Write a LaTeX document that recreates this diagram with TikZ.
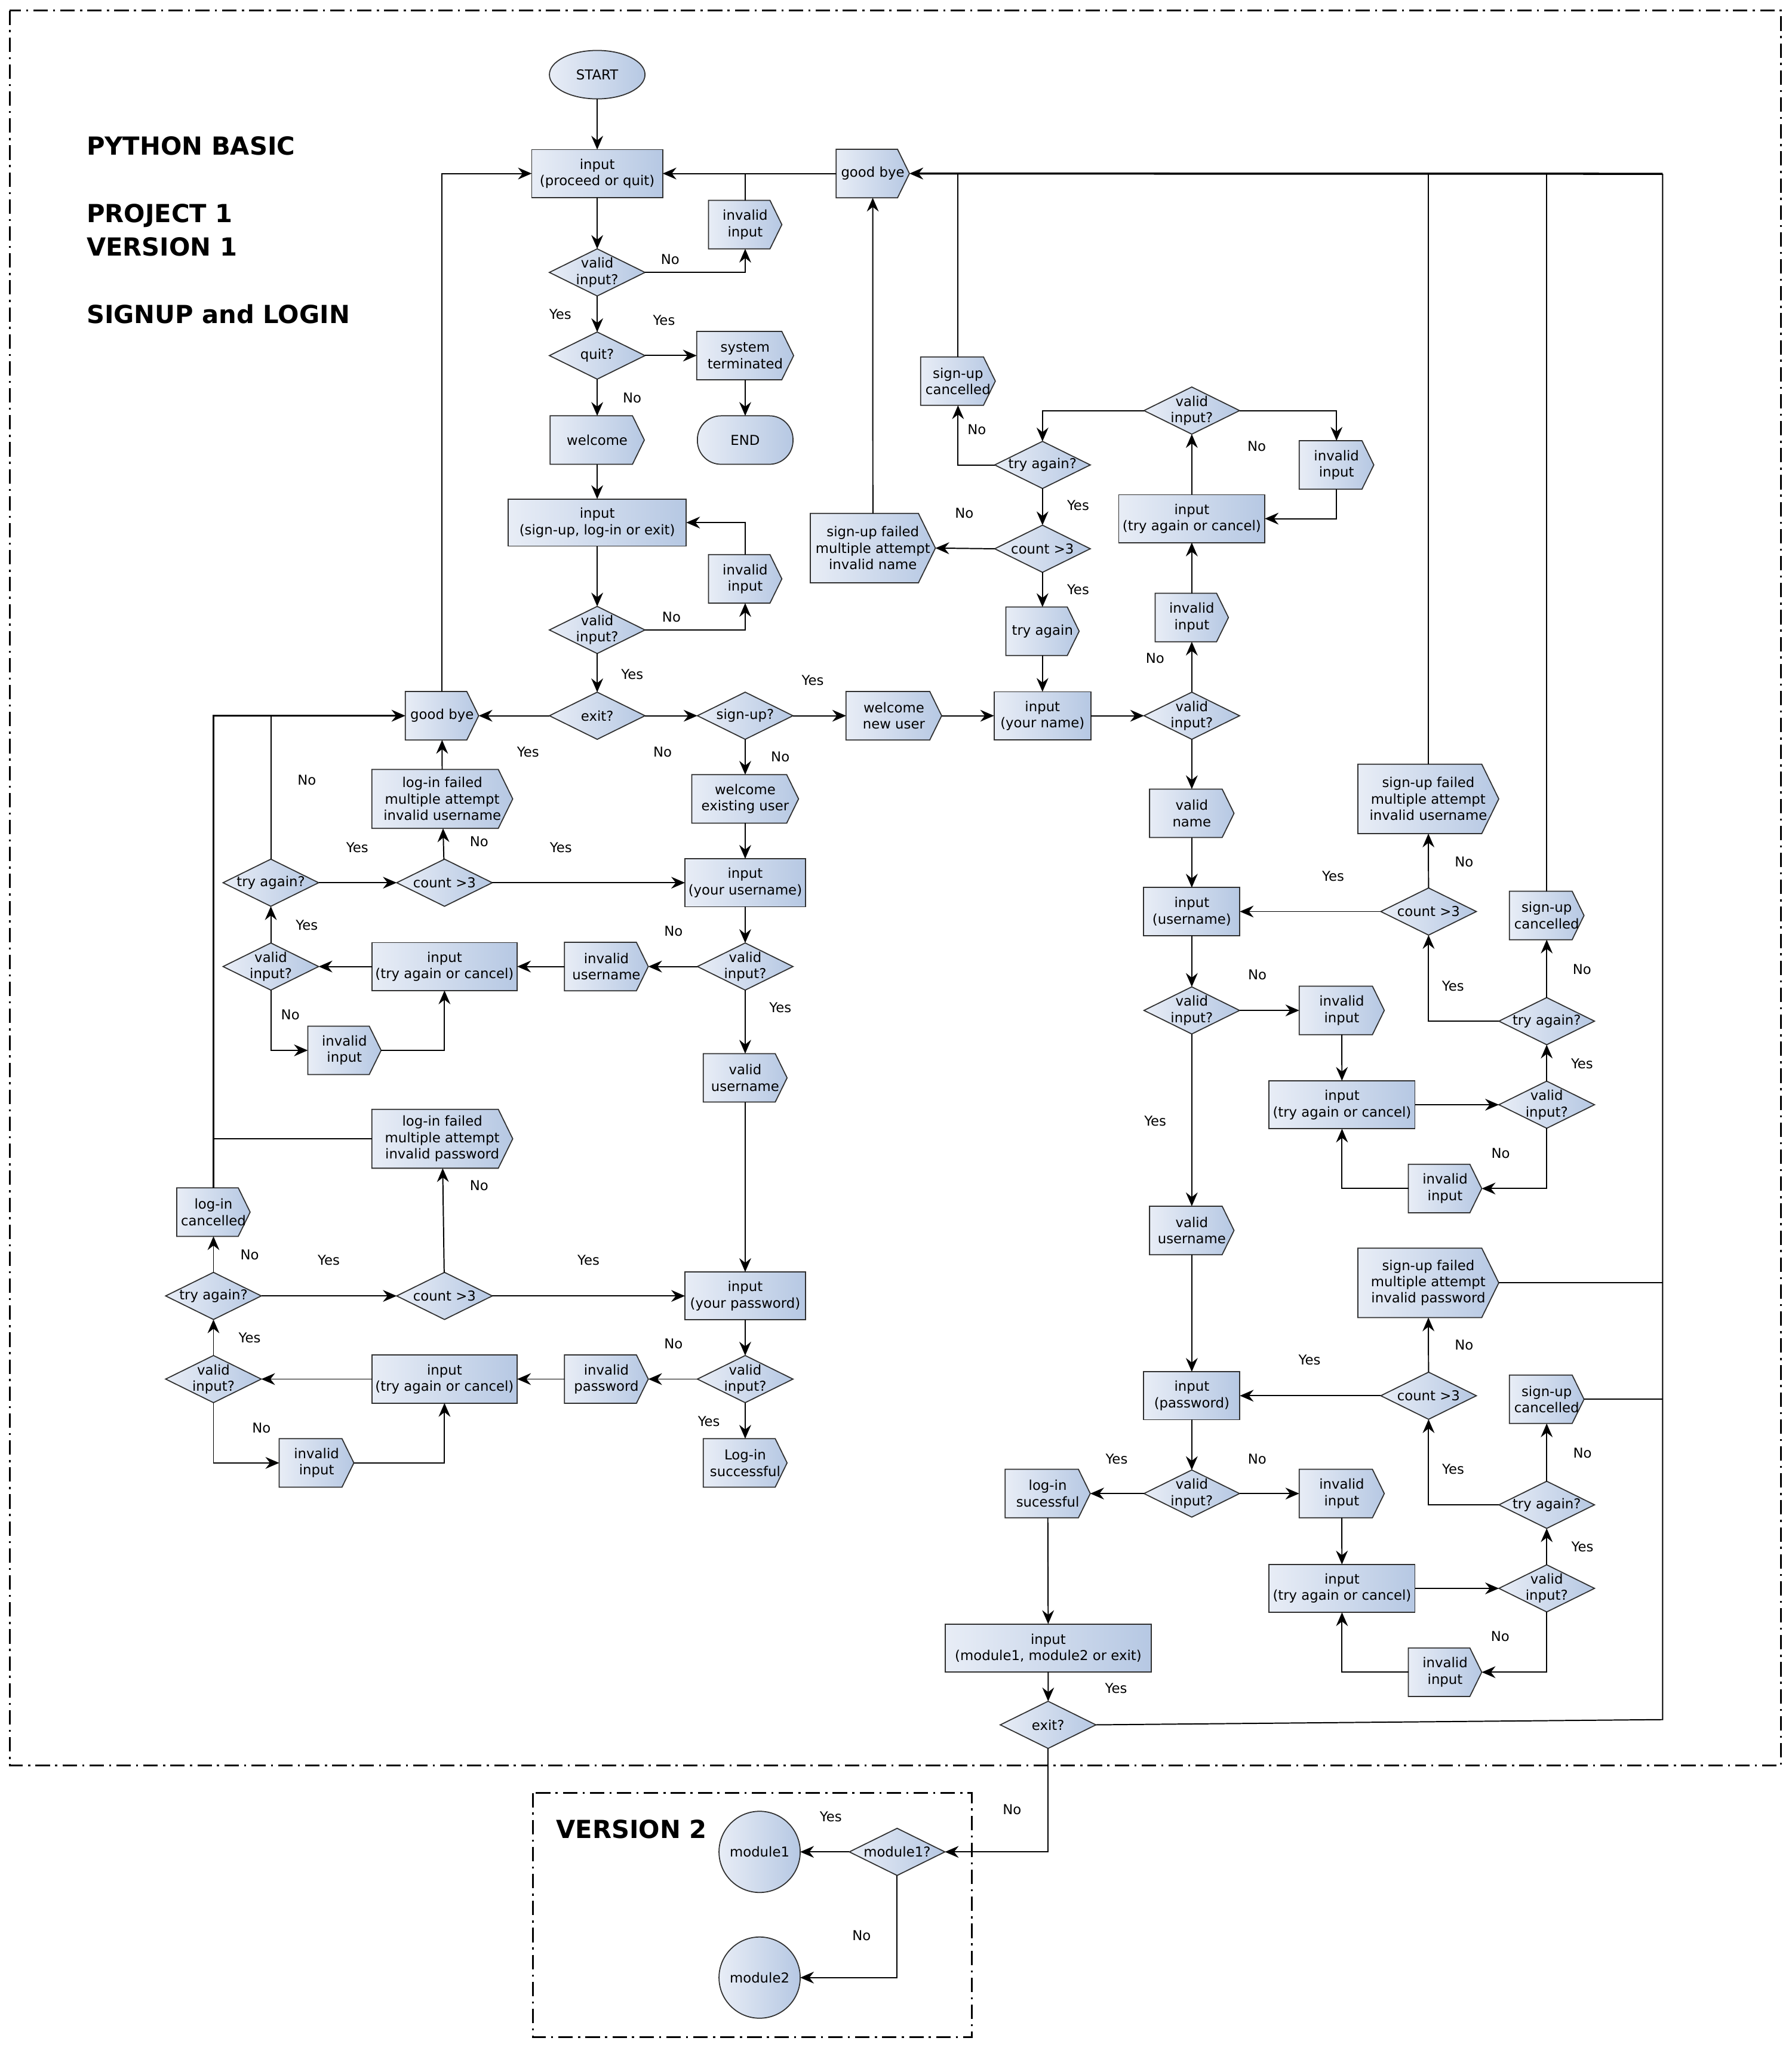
\documentclass[tikz,border=0pt]{standalone}
\usepackage{fontspec}
\setmainfont{DejaVu Sans}
\usetikzlibrary{shapes.geometric,arrows.meta}
\definecolor{cL}{HTML}{E8EDF6}
\definecolor{cR}{HTML}{B6C8E3}
\definecolor{bord}{HTML}{303030}
\newcommand{\dgfont}{\fontsize{10.4}{12.5}\selectfont}
\newcommand{\ttlfont}{\bfseries\fontsize{19}{22}\selectfont}
\makeatletter
\newdimen\pbxa \newdimen\pbya \newdimen\pbxb \newdimen\pbyb \newdimen\pbxc \newdimen\pbym
\pgfdeclareshape{pentbox}{%
  \inheritsavedanchors[from=rectangle]%
  \inheritanchorborder[from=rectangle]%
  \inheritanchor[from=rectangle]{center}%
  \inheritanchor[from=rectangle]{north}%
  \inheritanchor[from=rectangle]{south}%
  \inheritanchor[from=rectangle]{east}%
  \inheritanchor[from=rectangle]{west}%
  \inheritanchor[from=rectangle]{north east}%
  \inheritanchor[from=rectangle]{north west}%
  \inheritanchor[from=rectangle]{south east}%
  \inheritanchor[from=rectangle]{south west}%
  \inheritanchor[from=rectangle]{mid}%
  \inheritanchor[from=rectangle]{base}%
  \backgroundpath{%
    \southwest \pbxa=\pgf@x \pbya=\pgf@y
    \northeast \pbxb=\pgf@x \pbyb=\pgf@y
    \pbym=\pbya \advance\pbym by \pbyb \divide\pbym by 2
    \pbxc=\pbyb \advance\pbxc by -\pbya \pbxc=0.245\pbxc
    \pbxc=-\pbxc \advance\pbxc by \pbxb
    \pgfpathmoveto{\pgfqpoint{\pbxa}{\pbya}}%
    \pgfpathlineto{\pgfqpoint{\pbxa}{\pbyb}}%
    \pgfpathlineto{\pgfqpoint{\pbxc}{\pbyb}}%
    \pgfpathlineto{\pgfqpoint{\pbxb}{\pbym}}%
    \pgfpathlineto{\pgfqpoint{\pbxc}{\pbya}}%
    \pgfpathclose
  }%
}
\makeatother
\newcounter{labc}
\newcommand{\lab}[2]{\stepcounter{labc}\node[lbl] (lab\arabic{labc}) at (#1) {#2};}
\newcommand{\decnode}[3]{\node[dec] (#1) at (#2) {}; \node[dtext] (#1t) at (#1.center) {#3};}
\begin{document}
\begin{tikzpicture}[x=1pt,y=-1pt,
  shp/.style={draw=bord, line width=0.8pt, left color=cL, right color=cR, outer sep=0pt, font=\dgfont, align=center, inner sep=2pt},
  proc/.style={shp, rectangle, minimum height=36.6pt},
  pent/.style={shp, shape=pentbox, minimum height=37pt},
  dec/.style={shp, diamond, aspect=2, minimum width=73pt, minimum height=36pt, inner sep=0pt},
  dtext/.style={font=\dgfont, align=center, inner sep=0pt},
  lbl/.style={font=\dgfont, inner sep=0pt},
  arr/.style={line width=0.9pt, -{Stealth[length=10.5pt,width=9pt,inset=3.5pt]}},
  ln/.style={line width=0.9pt},
  thk/.style={line width=1.6pt},
  framebox/.style={line width=1.4pt, dash pattern=on 11pt off 4pt on 1.6pt off 4pt},
  ttl/.style={font=\ttlfont, anchor=base west, inner sep=0pt}
]
\useasboundingbox (0,0) rectangle (1368,1563);
\draw[framebox] (7.5,8) rectangle (1360,1348);
\draw[framebox] (407,1369) rectangle (742,1555.6);

\node[ttl] (t1) at (66,118.5) {PYTHON BASIC};
\node[ttl] (t2) at (66,170) {PROJECT 1};
\node[ttl] (t3) at (66,195.4) {VERSION 1};
\node[ttl] (t4) at (66,247) {SIGNUP and LOGIN};
\node[ttl] (t5) at (424.5,1403.6) {VERSION 2};

% ---- main column
\node[shp, ellipse, minimum width=73pt, minimum height=37pt, inner sep=0pt] (start) at (456,57) {START};
\node[proc, minimum width=100pt] (in1) at (456,132.5) {input\\(proceed or quit)};
\node[pent, minimum width=56pt] (inv1) at (569,171.5) {invalid\\input};
\decnode{v1}{456,208}{valid\\input?}
\decnode{quit}{456,271.5}{quit?}
\node[pent, minimum width=74pt] (sys) at (569,271.5) {system\\terminated};
\node[shp, rectangle, rounded corners=18pt, minimum width=73pt, minimum height=37pt] (endn) at (569,336) {END};
\node[pent, minimum width=72pt] (welcome) at (456,336) {welcome};
\node[proc, minimum width=136pt, minimum height=36pt] (in2) at (456,399) {input\\(sign-up, log-in or exit)};
\node[pent, minimum width=56pt] (inv2) at (569,442) {invalid\\input};
\decnode{v2}{456,481}{valid\\input?}
\decnode{exit}{456,546.5}{exit?}
\node[pent, minimum width=56pt] (gbL) at (337.5,546.5) {good bye};
\decnode{signup}{569,546.5}{sign-up?}
\node[pent, minimum width=73pt] (welNew) at (682.5,546.5) {welcome\\new user};
\node[proc, minimum width=74pt] (inName) at (796,546.5) {input\\(your name)};
\decnode{vName}{910,546.5}{valid\\input?}

% ---- upper middle
\node[pent, minimum width=56pt] (gbTop) at (666.4,132.5) {good bye};
\node[pent, minimum width=56pt] (invA) at (910,471.5) {invalid\\input};
\node[proc, minimum width=111.5pt] (tac1) at (910,396) {input\\(try again or cancel)};
\decnode{vTop}{910,313.5}{valid\\input?}
\node[pent, minimum width=57pt] (invB) at (1020.5,355) {invalid\\input};
\decnode{taTop}{796,355}{try again?}
\node[pent, minimum width=57pt] (cancTop) at (731.5,291) {sign-up\\cancelled};
\decnode{cntTop}{796,419}{count >3};
\node[pent, minimum width=95.5pt, minimum height=53pt] (failName) at (666.5,418.5) {sign-up failed\\multiple attempt\\invalid name};
\node[pent, minimum width=56pt] (tryPent) at (796,482) {try again};

% ---- left (log-in)
\node[pent, minimum width=81.5pt] (welEx) at (569,610) {welcome\\existing user};
\node[proc, minimum width=92pt] (inUser) at (569,674) {input\\(your username)};
\decnode{vL1}{569,738}{valid\\input?}
\node[pent, minimum width=64pt] (invUser) at (463,738) {invalid\\username};
\node[proc, minimum width=111pt] (tacL1) at (339.4,738) {input\\(try again or cancel)};
\decnode{vL2}{206.8,738}{valid\\input?}
\node[pent, minimum width=56pt] (invInL) at (263,802) {invalid\\input};
\decnode{taL}{206.8,674}{try again?}
\decnode{cntL}{339.4,674}{count >3}
\node[pent, minimum width=107.6pt, minimum height=45pt] (failLUser) at (337.7,610) {log-in failed\\multiple attempt\\invalid username};
\node[pent, minimum width=64pt] (vUserL) at (569,823) {valid\\username};
\node[pent, minimum width=107.6pt, minimum height=45pt] (failLPass) at (337.7,869.5) {log-in failed\\multiple attempt\\invalid password};
\node[pent, minimum width=56pt] (cancL) at (163,925.5) {log-in\\cancelled};
\decnode{taL2}{163,989.5}{try again?}
\decnode{cntL2}{339.4,989.5}{count >3}
\node[proc, minimum width=92pt] (inPass) at (569,989.5) {input\\(your password)};
\decnode{vL3}{569,1053}{valid\\input?}
\node[pent, minimum width=64pt] (invPass) at (463,1053) {invalid\\password};
\node[proc, minimum width=111pt] (tacL2) at (339.4,1053) {input\\(try again or cancel)};
\decnode{vL4}{163,1053}{valid\\input?}
\node[pent, minimum width=57pt] (invInL2) at (241.7,1117) {invalid\\input};
\node[pent, minimum width=64pt] (loginOK) at (569,1117) {Log-in\\successful};

% ---- right (sign-up)
\node[pent, minimum width=64.5pt] (vNamePent) at (910,621) {valid\\name};
\node[proc, minimum width=73.4pt] (inUsername) at (910,696) {input\\(username)};
\decnode{vU}{910,771.5}{valid\\input?}
\node[pent, minimum width=65pt] (invC) at (1024.5,771.5) {invalid\\input};
\node[proc, minimum width=111.4pt] (tac2) at (1024.7,843.5) {input\\(try again or cancel)};
\decnode{vR}{1181,843.5}{valid\\input?}
\node[pent, minimum width=56pt] (invD) at (1103.4,907.5) {invalid\\input};
\decnode{taR}{1181,779.7}{try again?}
\node[pent, minimum width=57pt] (cancR) at (1181,699) {sign-up\\cancelled};
\decnode{cntR}{1090.8,696}{count >3}
\node[pent, minimum width=107.6pt, minimum height=53pt] (failUser) at (1090.6,610) {sign-up failed\\multiple attempt\\invalid username};
\node[pent, minimum width=64.5pt] (vUserPent) at (910,939.5) {valid\\username};
\node[pent, minimum width=107.6pt, minimum height=53pt] (failPass) at (1090.6,979.5) {sign-up failed\\multiple attempt\\invalid password};
\node[proc, minimum width=73.4pt] (inPassword) at (910,1065.7) {input\\(password)};
\decnode{cntR2}{1090.8,1065.7}{count >3}
\node[pent, minimum width=57pt] (cancR2) at (1181,1068.4) {sign-up\\cancelled};
\decnode{vP}{910,1140.4}{valid\\input?}
\node[pent, minimum width=65pt] (invE) at (1024.5,1140.4) {invalid\\input};
\node[pent, minimum width=65pt] (loginSucc) at (800,1140.4) {log-in\\sucessful};
\decnode{taR2}{1181,1149}{try again?}
\node[proc, minimum width=111.4pt] (tac3) at (1024.7,1212.8) {input\\(try again or cancel)};
\decnode{vR2}{1181,1212.8}{valid\\input?}
\node[pent, minimum width=56pt] (invF) at (1103.4,1276.8) {invalid\\input};
\node[proc, minimum width=157pt] (inModule) at (800.4,1258.3) {input\\(module1, module2 or exit)};
\decnode{exit2}{800.3,1317}{exit?}

% ---- version 2
\decnode{m1q}{685,1414}{module1?}
\node[shp, circle, minimum size=62pt, inner sep=0pt] (m1) at (580,1414) {module1};
\node[shp, circle, minimum size=62pt, inner sep=0pt] (m2) at (580,1510) {module2};

\coordinate (rt) at (1269.5,132.7);
\coordinate (rb) at (1269.5,1313);

% ---- connectors: main column
\draw[arr] (start) -- (in1);
\draw[arr] (in1) -- (v1);
\draw[arr] (v1.east) -| (inv1.south);
\draw[ln] (inv1.north) -- (inv1.north |- in1.east);
\draw[arr] (gbTop.west) -- (in1.east);
\draw[arr] (v1) -- (quit);
\draw[arr] (quit) -- (sys);
\draw[arr] (sys) -- (endn);
\draw[arr] (quit) -- (welcome);
\draw[arr] (welcome) -- (in2);
\draw[arr] (in2) -- (v2);
\draw[arr] (v2.east) -| (inv2.south);
\draw[arr] (inv2.north) |- (in2.east);
\draw[arr] (v2) -- (exit);
\draw[arr] (exit) -- (gbL);
\draw[arr] (exit) -- (signup);
\draw[arr] (signup) -- (welNew);
\draw[arr] (welNew) -- (inName);
\draw[arr] (inName) -- (vName);
\draw[arr] (gbL.north) |- (in1.west);

% ---- upper middle
\draw[arr] (vName) -- (invA);
\draw[arr] (invA) -- (tac1);
\draw[arr] (tac1) -- (vTop);
\draw[arr] (vTop.east) -| (invB.north);
\draw[arr] (invB.south) |- (tac1.east);
\draw[arr] (vTop.west) -| (taTop.north);
\draw[arr] (taTop.west) -| (cancTop.south);
\draw[arr] (taTop) -- (cntTop);
\draw[arr] (cntTop.west) -- (failName.east);
\draw[arr] (cntTop) -- (tryPent);
\draw[arr] (tryPent) -- (inName);
\draw[arr] (failName) -- (gbTop);
\draw[ln] (cancTop.north) -- (cancTop.north |- rt);
\draw[arr, thk] (rt) -- (gbTop.east);
\draw[ln] (exit2.east) -- (rb) -- (rt);
\draw[ln] (failUser.north) -- (failUser.north |- rt);
\draw[ln] (cancR.north) -- (cancR.north |- rt);
\draw[ln] (failPass.east) -- (failPass.east -| rb);
\draw[ln] (cancR2.east) -- (cancR2.east -| rb);

% ---- left
\draw[arr] (signup) -- (welEx);
\draw[arr] (welEx) -- (inUser);
\draw[arr] (inUser) -- (vL1);
\draw[arr] (vL1) -- (invUser);
\draw[arr] (invUser) -- (tacL1);
\draw[arr] (tacL1) -- (vL2);
\draw[arr] (vL2) -- (taL);
\draw[arr] (taL) -- (cntL);
\draw[arr] (cntL) -- (inUser);
\draw[arr] (cntL) -- (failLUser);
\draw[arr] (failLUser) -- (gbL);
\draw[ln] (taL.north) -- (taL.north |- gbL.west);
\draw[arr] (vL2.south) |- (invInL.west);
\draw[arr] (invInL.east) -| (tacL1.south);
\draw[arr] (vL1) -- (vUserL);
\draw[arr] (vUserL) -- (inPass);
\draw[arr] (inPass) -- (vL3);
\draw[arr] (vL3) -- (invPass);
\draw[arr] (invPass) -- (tacL2);
\draw[arr] (tacL2) -- (vL4);
\draw[arr] (vL4) -- (taL2);
\draw[arr] (taL2) -- (cancL);
\draw[arr] (taL2) -- (cntL2);
\draw[arr] (cntL2) -- (inPass);
\draw[arr] (cntL2) -- (failLPass);
\draw[arr, thk] (cancL.north) |- (gbL.west);
\draw[ln] (failLPass.west) -- (failLPass.west -| cancL.north);
\draw[arr] (vL4.south) |- (invInL2.west);
\draw[arr] (invInL2.east) -| (tacL2.south);
\draw[arr] (vL3) -- (loginOK);

% ---- right
\draw[arr] (vName) -- (vNamePent);
\draw[arr] (vNamePent) -- (inUsername);
\draw[arr] (inUsername) -- (vU);
\draw[arr] (vU) -- (invC);
\draw[arr] (invC) -- (tac2);
\draw[arr] (tac2) -- (vR);
\draw[arr] (vR) -- (taR);
\draw[arr] (taR) -- (cancR);
\draw[arr] (taR.west) -| (cntR.south);
\draw[arr] (cntR) -- (failUser);
\draw[arr] (cntR) -- (inUsername);
\draw[arr] (vR.south) |- (invD.east);
\draw[arr] (invD.west) -| (tac2.south);
\draw[arr] (vU) -- (vUserPent);
\draw[arr] (vUserPent) -- (inPassword);
\draw[arr] (inPassword) -- (vP);
\draw[arr] (vP) -- (invE);
\draw[arr] (vP) -- (loginSucc);
\draw[arr] (invE) -- (tac3);
\draw[arr] (tac3) -- (vR2);
\draw[arr] (vR2) -- (taR2);
\draw[arr] (taR2) -- (cancR2);
\draw[arr] (taR2.west) -| (cntR2.south);
\draw[arr] (cntR2) -- (failPass);
\draw[arr] (cntR2) -- (inPassword);
\draw[arr] (vR2.south) |- (invF.east);
\draw[arr] (invF.west) -| (tac3.south);
\draw[arr] (loginSucc) -- (inModule);
\draw[arr] (inModule) -- (exit2);
\draw[arr] (exit2.south) |- (m1q.east);
\draw[arr] (m1q) -- (m1);
\draw[arr] (m1q.south) |- (m2.east);

% ---- labels
\lab{511.7,197.9}{No}
\lab{427.8,240}{Yes}
\lab{507,244.7}{Yes}
\lab{482.7,303.8}{No}
\lab{512.7,471}{No}
\lab{482.8,514.7}{Yes}
\lab{403.2,574.3}{Yes}
\lab{505.9,574}{No}
\lab{620.6,519.3}{Yes}
\lab{595.8,577.7}{No}
\lab{234.3,595.4}{No}
\lab{272.8,647}{Yes}
\lab{365.8,642.7}{No}
\lab{428.3,647}{Yes}
\lab{234.3,706.5}{Yes}
\lab{514.2,711}{No}
\lab{221.7,775}{No}
\lab{595.8,769.5}{Yes}
\lab{365.8,905.3}{No}
\lab{190.6,958}{No}
\lab{251,962.4}{Yes}
\lab{449.4,962.4}{Yes}
\lab{190.6,1021.3}{Yes}
\lab{514.2,1026}{No}
\lab{199.6,1090.2}{No}
\lab{541.3,1085.4}{Yes}
\lab{745.9,328.2}{No}
\lab{823.2,386}{Yes}
\lab{736.3,391.8}{No}
\lab{823.2,450}{Yes}
\lab{959.6,340.7}{No}
\lab{882,502.8}{No}
\lab{1117.9,657.9}{No}
\lab{1017.9,669.2}{Yes}
\lab{1208,740}{No}
\lab{1109.5,753}{Yes}
\lab{960,744.4}{No}
\lab{1208,812.3}{Yes}
\lab{1145.8,880.8}{No}
\lab{882.1,855.8}{Yes}
\lab{1117.9,1027}{No}
\lab{999.9,1038.5}{Yes}
\lab{1208.3,1109.4}{No}
\lab{1109.6,1121.7}{Yes}
\lab{852.6,1113.9}{Yes}
\lab{959.9,1113.9}{No}
\lab{1208.3,1181.1}{Yes}
\lab{1145.5,1249.4}{No}
\lab{852.2,1289.2}{Yes}
\lab{772.8,1381.7}{No}
\lab{634.4,1387}{Yes}
\lab{657.9,1478}{No}
\end{tikzpicture}
\end{document}
